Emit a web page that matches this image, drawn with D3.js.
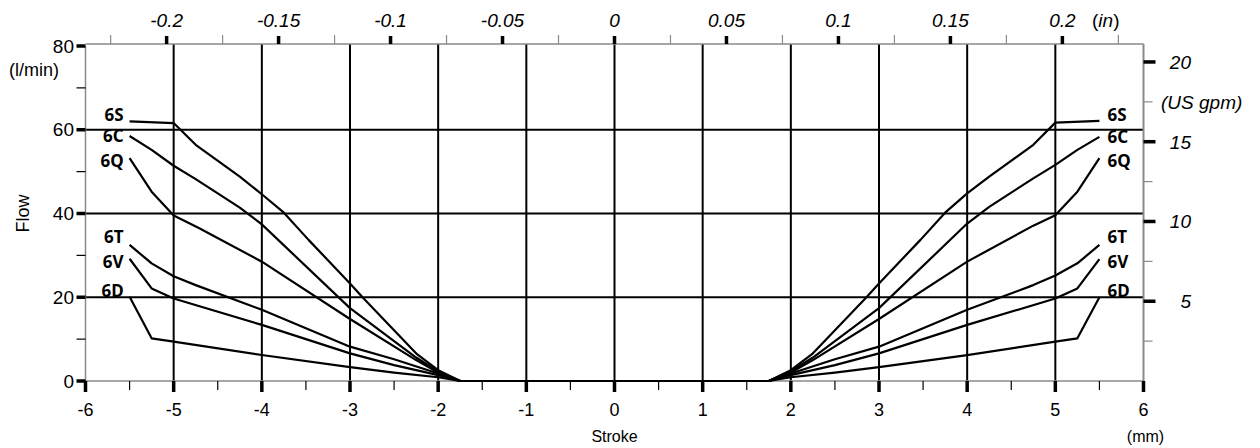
<!DOCTYPE html>
<html>
<head>
<meta charset="utf-8">
<script src="https://cdn.jsdelivr.net/npm/d3@7"></script>
<style>
  html, body { margin: 0; padding: 0; background: #fff; }
  svg { display: block; }
</style>
</head>
<body>
<svg id="chart" width="1260" height="448"></svg>
<script>
// ---- data (stroke in mm, flow in l/min) ----
const seriesNames = ["6S", "6C", "6Q", "6T", "6V", "6D"];
const flow6S = [[-5.5,62.0],[-5.0,61.6],[-4.75,56.4],[-4.25,48.8],[-4.0,44.6],[-3.75,40.2],[-3.47,33.7],[-3.0,23.3],[-2.85,19.8],[-2.24,6.4],[-2.0,2.6],[-1.75,0],
                [1.75,0],[2.0,2.6],[2.24,6.4],[2.85,19.8],[3.0,23.3],[3.47,33.7],[3.75,40.2],[4.0,44.8],[4.25,48.8],[4.75,56.4],[5.0,61.7],[5.5,62.1]];
const flow6C = [[-5.5,58.5],[-5.25,55.2],[-5.0,51.4],[-4.75,48.2],[-4.25,41.4],[-4.0,37.4],[-3.0,17.4],[-2.25,5.6],[-2.0,2.3],[-1.75,0],
                [1.75,0],[2.0,2.3],[2.25,5.6],[3.0,17.4],[4.0,37.6],[4.25,41.6],[4.75,48.4],[5.0,51.6],[5.25,55.2],[5.5,58.3]];
const flow6Q = [[-5.5,53.2],[-5.25,45.2],[-5.0,39.5],[-4.72,36.6],[-4.0,28.5],[-3.0,14.8],[-2.25,5.0],[-2.0,2.0],[-1.75,0],
                [1.75,0],[2.0,2.0],[2.25,5.0],[3.0,14.8],[4.0,28.5],[4.75,37.1],[5.0,39.6],[5.25,45.2],[5.5,53.2]];
const flow6T = [[-5.5,32.5],[-5.25,28.1],[-5.0,25.0],[-4.75,22.9],[-4.0,17.0],[-3.0,8.2],[-2.5,5.2],[-2.0,1.8],[-1.75,0],
                [1.75,0],[2.0,1.8],[2.5,5.2],[3.0,8.2],[4.0,17.0],[4.75,22.9],[5.0,25.2],[5.25,28.1],[5.5,32.5]];
const flow6V = [[-5.5,29.2],[-5.25,22.1],[-5.0,19.7],[-4.0,13.4],[-3.0,6.6],[-2.5,3.8],[-2.0,1.4],[-1.75,0],
                [1.75,0],[2.0,1.4],[2.5,3.8],[3.0,6.6],[4.0,13.4],[5.0,19.7],[5.25,22.1],[5.5,29.1]];
const flow6D = [[-5.5,20.1],[-5.25,10.2],[-5.0,9.4],[-4.0,6.2],[-3.0,3.3],[-2.5,2.0],[-2.0,0.9],[-1.75,0],
                [1.75,0],[2.0,0.9],[2.5,2.0],[3.0,3.3],[4.0,6.2],[5.0,9.4],[5.25,10.2],[5.5,20.0]];
const seriesData = [flow6S, flow6C, flow6Q, flow6T, flow6V, flow6D];

const mmTicks = [-6,-5,-4,-3,-2,-1,0,1,2,3,4,5,6];
const mmMinorTicks = [-5.5,-4.5,-3.5,-2.5,-1.5,-0.5,0.5,1.5,2.5,3.5,4.5,5.5];
const inchTicks = [-0.2,-0.15,-0.1,-0.05,0,0.05,0.1,0.15,0.2];
const inchMinorTicks = [-0.225,-0.175,-0.125,-0.075,-0.025,0.025,0.075,0.125,0.175,0.225];
const lpmTicks = [0,20,40,60,80];
const lpmMinorTicks = [10,30,50,70];
const gpmTicks = [5,10,15,20];
const gpmMinorTicks = [2.5,7.5,12.5,17.5];
const gridX = [-5,-4,-3,-2,-1,0,1,2,3,4,5];
const gridY = [20,40,60];
const MM_PER_IN = 25.4;

// ---- layout ----
const svg = d3.select("#chart");
const L = 85.5, R = 1143.5, T = 44, B = 381;
const x = d3.scaleLinear().domain([-6, 6]).range([L, R]);
const xIn = d3.scaleLinear().domain([-6 / MM_PER_IN, 6 / MM_PER_IN]).range([L, R]);
const y = d3.scaleLinear().domain([0, 80]).range([B, 46]);
const yG = d3.scaleLinear().domain([0, 21]).range([B, 46]);

const gray = "#8a8a8a";
const FR = "Liberation Sans, Arial, sans-serif";
const FN = "Liberation Sans Narrow, Arial Narrow, Liberation Sans, sans-serif";
const FB = "Noto Sans, Open Sans, sans-serif";

// grid
svg.append("g").selectAll("line").data(gridX).join("line")
  .attr("x1", d => x(d)).attr("x2", d => x(d)).attr("y1", T).attr("y2", B)
  .attr("stroke", "#000").attr("stroke-width", 2);
svg.append("g").selectAll("line").data(gridY).join("line")
  .attr("x1", L).attr("x2", R).attr("y1", d => y(d)).attr("y2", d => y(d))
  .attr("stroke", "#000").attr("stroke-width", 2);

// frame lines (gray)
svg.append("line").attr("x1", L).attr("x2", R).attr("y1", T).attr("y2", T).attr("stroke", gray).attr("stroke-width", 1.5);
svg.append("line").attr("x1", L).attr("x2", R).attr("y1", B).attr("y2", B).attr("stroke", gray).attr("stroke-width", 1.5);
svg.append("line").attr("x1", L).attr("x2", L).attr("y1", y(80)).attr("y2", B).attr("stroke", gray).attr("stroke-width", 1.5);
svg.append("line").attr("x1", R).attr("x2", R).attr("y1", T).attr("y2", B + 2).attr("stroke", gray).attr("stroke-width", 2);

// ---- bottom axis (mm) ----
const axB = svg.append("g");
axB.selectAll("line.maj").data(mmTicks).join("line")
  .attr("x1", d => x(d)).attr("x2", d => x(d)).attr("y1", B).attr("y2", B + 11)
  .attr("stroke", "#000").attr("stroke-width", 3.5);
axB.selectAll("line.min").data(mmMinorTicks).join("line")
  .attr("x1", d => x(d)).attr("x2", d => x(d)).attr("y1", B).attr("y2", B + 9)
  .attr("stroke", "#000").attr("stroke-width", 1.2);
axB.selectAll("text").data(mmTicks).join("text")
  .attr("font-family", FN)
  .attr("x", d => x(d)).attr("y", 416).attr("text-anchor", "middle")
  .attr("font-size", 18).text(d => d < 0 ? "-" + Math.abs(d) : String(d));
svg.append("text").attr("font-family", FN).attr("x", x(0)).attr("y", 442)
  .attr("text-anchor", "middle").attr("font-size", 16).text("Stroke");
svg.append("text").attr("font-family", FN).attr("x", x(6) + 2).attr("y", 442)
  .attr("text-anchor", "middle").attr("font-size", 16).text("(mm)");

// ---- top axis (in) ----
const axT = svg.append("g");
axT.selectAll("line.min").data(inchMinorTicks).join("line")
  .attr("x1", d => xIn(d)).attr("x2", d => xIn(d)).attr("y1", T).attr("y2", T - 9)
  .attr("stroke", gray).attr("stroke-width", 1.2);
axT.selectAll("line.maj").data(inchTicks).join("line")
  .attr("x1", d => xIn(d)).attr("x2", d => xIn(d)).attr("y1", T).attr("y2", T - 8)
  .attr("stroke", "#000").attr("stroke-width", 3.5);
axT.selectAll("text").data(inchTicks).join("text")
  .attr("font-family", FR)
  .attr("x", d => xIn(d)).attr("y", 27).attr("text-anchor", "middle")
  .attr("font-size", 19).attr("font-style", "italic")
  .text(d => d < 0 ? "-" + String(Math.abs(d)) : String(d));
const inLbl = svg.append("text").attr("font-family", FR).attr("x", 1092).attr("y", 27).attr("font-size", 19);
inLbl.append("tspan").text("(");
inLbl.append("tspan").attr("font-style", "italic").text("in");
inLbl.append("tspan").text(")");

// ---- left axis (l/min) ----
const axL = svg.append("g");
axL.selectAll("line.maj").data(lpmTicks).join("line")
  .attr("x1", L - 9).attr("x2", L).attr("y1", d => y(d)).attr("y2", d => y(d))
  .attr("stroke", "#000").attr("stroke-width", 3.5);
axL.selectAll("line.min").data(lpmMinorTicks).join("line")
  .attr("x1", L - 9).attr("x2", L).attr("y1", d => y(d)).attr("y2", d => y(d))
  .attr("stroke", "#000").attr("stroke-width", 1.2);
axL.selectAll("text").data(lpmTicks).join("text")
  .attr("font-family", FR)
  .attr("x", 74).attr("y", d => y(d) + 6.5).attr("text-anchor", "end")
  .attr("font-size", 19).text(d => d);
svg.append("text").attr("font-family", FR).attr("x", 34).attr("y", 76)
  .attr("text-anchor", "middle").attr("font-size", 18).text("(l/min)");
svg.append("text").attr("font-family", FR)
  .attr("transform", `translate(29,${y(40)}) rotate(-90)`)
  .attr("text-anchor", "middle").attr("font-size", 18).text("Flow");

// ---- right axis (US gpm) ----
const axR = svg.append("g");
axR.selectAll("line.min").data(gpmMinorTicks).join("line")
  .attr("x1", R).attr("x2", R + 9).attr("y1", d => yG(d)).attr("y2", d => yG(d))
  .attr("stroke", gray).attr("stroke-width", 1.2);
axR.selectAll("line.maj").data(gpmTicks).join("line")
  .attr("x1", R).attr("x2", R + 12).attr("y1", d => yG(d)).attr("y2", d => yG(d))
  .attr("stroke", "#000").attr("stroke-width", 3.5);
axR.selectAll("text").data(gpmTicks).join("text")
  .attr("font-family", FR)
  .attr("x", 1191).attr("y", d => yG(d) + 7).attr("text-anchor", "end")
  .attr("font-size", 19).attr("font-style", "italic").text(d => d);
svg.append("text").attr("font-family", FR).attr("x", 1161).attr("y", yG(17.5) + 7)
  .attr("font-size", 19).attr("font-style", "italic").text("(US gpm)");

// ---- curves ----
const line = d3.line().x(d => x(d[0])).y(d => y(d[1]));
svg.append("g").selectAll("path").data(seriesData).join("path")
  .attr("d", line).attr("fill", "none").attr("stroke", "#000")
  .attr("stroke-width", 2.2).attr("stroke-linejoin", "round");

// ---- series labels ----
const labelNudge = { "6S": -6, "6C": 0, "6Q": 3, "6T": -8, "6V": 3, "6D": -6 };
seriesNames.forEach((name, i) => {
  const pts = seriesData[i];
  const first = pts[0], last = pts[pts.length - 1];
  svg.append("text").attr("font-family", FB).attr("font-weight", 700)
    .attr("x", x(first[0]) - 6).attr("y", y(first[1]) + labelNudge[name])
    .attr("dy", "0.36em").attr("text-anchor", "end").attr("font-size", 17).text(name);
  svg.append("text").attr("font-family", FB).attr("font-weight", 700)
    .attr("x", x(last[0]) + 8).attr("y", y(last[1]) + labelNudge[name])
    .attr("dy", "0.36em").attr("text-anchor", "start").attr("font-size", 17).text(name);
});
</script>
</body>
</html>
